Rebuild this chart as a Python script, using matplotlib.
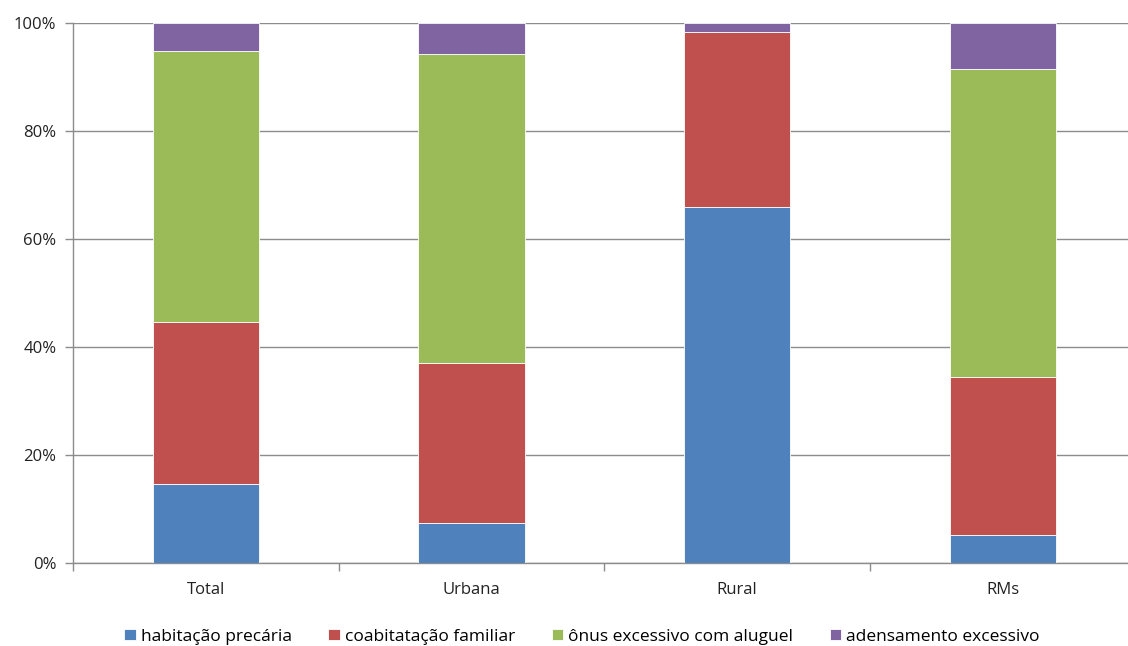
import matplotlib.pyplot as plt
import numpy as np

categories = ['Total', 'Urbana', 'Rural', 'RMs']
habitacao = [14.6, 7.4, 65.9, 5.2]
coabitacao = [30.0, 29.6, 32.4, 29.2]
onus = [50.2, 57.3, 0.1, 57.1]
adensamento = [5.2, 5.7, 1.6, 8.5]

series = [
    ('habitação precária', habitacao, '#4F81BD'),
    ('coabitatação familiar', coabitacao, '#C0504D'),
    ('ônus excessivo com aluguel', onus, '#9BBB59'),
    ('adensamento excessivo', adensamento, '#8064A2'),
]

plt.rcParams['font.family'] = ['Open Sans', 'DejaVu Sans']

fig = plt.figure(figsize=(11.28, 6.46), dpi=100)
# axes run slightly past the right edge, as in the original
ax = fig.add_axes([0.0647, 0.1285, 0.942, 0.836])

x = np.arange(len(categories))
bottom = np.zeros(len(categories))
for name, vals, color in series:
    ax.bar(x, vals, width=0.4, bottom=bottom, color=color, label=name,
           edgecolor='#ffffff', linewidth=0.6, zorder=3)
    bottom += np.array(vals)

ax.set_xlim(-0.5, len(categories) - 0.5)
ax.set_ylim(0, 100)
ax.set_yticks(range(0, 101, 20))
ax.set_yticklabels([f'{v}%' for v in range(0, 101, 20)], fontsize=12, color='#222222')
ax.yaxis.grid(True, color='#8c8c8c', linewidth=1, zorder=0)

# category labels centered, tick marks on the boundaries
ax.set_xticks(x)
ax.set_xticklabels(categories, fontsize=12, color='#222222')
ax.tick_params(axis='x', length=0, pad=14)
ax.set_xticks(np.arange(-0.5, len(categories) + 0.5, 1), minor=True)
ax.tick_params(axis='x', which='minor', length=6, color='#8c8c8c', width=1)
ax.tick_params(axis='y', length=6, color='#8c8c8c', width=1, pad=6)

for s in ['top', 'right']:
    ax.spines[s].set_visible(False)
for s in ['left', 'bottom']:
    ax.spines[s].set_color('#8c8c8c')
    ax.spines[s].set_linewidth(1)

fig.legend(loc='lower center', bbox_to_anchor=(0.516, -0.022), ncol=4, frameon=False,
           fontsize=12.5, handlelength=0.65, handleheight=0.65, handletextpad=0.3,
           columnspacing=2.1)

fig.savefig('out.png', dpi=100)
